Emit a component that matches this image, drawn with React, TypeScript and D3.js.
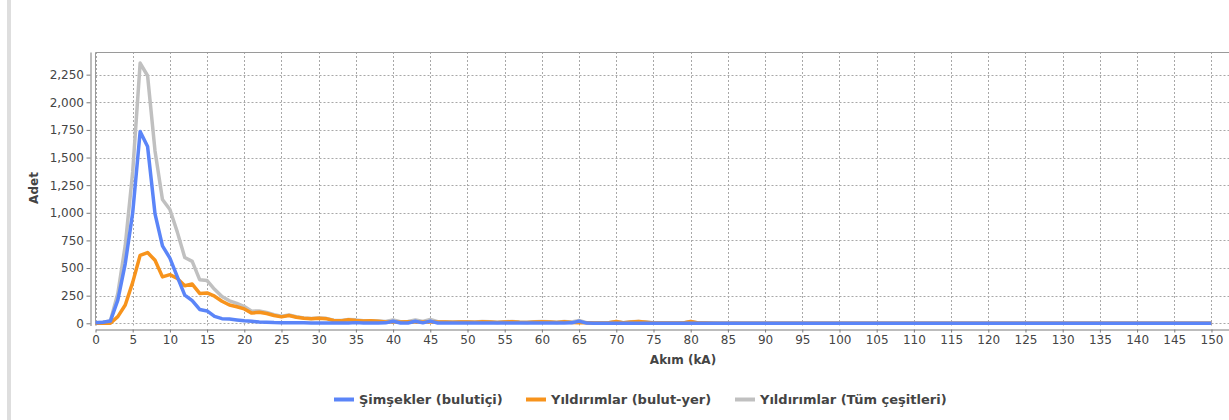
import React, { useEffect, useRef } from 'react'
import * as d3 from 'd3'

// Adet per kA (index = kA, 0..150)
const simsekler = [
  5, 10, 20, 210, 540, 1000, 1735, 1600, 990, 700,
  590, 420, 255, 205, 125, 112, 62, 42, 38, 30,
  22, 18, 12, 10, 7, 6, 5, 4, 4, 3,
  3, 3, 2, 3, 2, 6, 2, 2, 2, 4,
  18, 3, 2, 18, 4, 20, 3, 2, 2, 2,
  2, 2, 3, 2, 2, 2, 2, 2, 2, 2,
  2, 2, 2, 2, 4, 20, 2, 1, 1, 1,
  1, 1, 1, 1, 1, 1, 1, 1, 1, 1,
  1, 1, 1, 1, 0, 0, 1, 0, 0, 0,
  0, 0, 0, 0, 0, 0, 0, 0, 0, 0,
  0, 0, 0, 0, 0, 0, 0, 0, 0, 0,
  0, 0, 0, 0, 0, 0, 0, 0, 0, 0,
  0, 0, 0, 0, 0, 0, 0, 0, 0, 0,
  0, 0, 0, 0, 0, 0, 0, 0, 0, 0,
  0, 0, 0, 0, 0, 0, 0, 0, 0, 0,
  0
]

const bulutYer = [
  0, 0, 0, 60, 165, 370, 615, 640, 570, 420,
  440, 405, 340, 355, 270, 275, 245, 200, 165, 150,
  130, 92, 100, 88, 70, 58, 70, 55, 45, 40,
  45, 42, 25, 22, 32, 25, 20, 22, 18, 12,
  12, 12, 14, 12, 12, 14, 12, 12, 10, 12,
  12, 10, 14, 12, 8, 12, 14, 10, 8, 12,
  14, 12, 8, 14, 8, 5, 4, 3, 3, 5,
  16, 4, 12, 16, 10, 3, 2, 2, 2, 3,
  16, 3, 2, 1, 1, 1, 1, 1, 1, 1,
  0, 0, 1, 0, 0, 0, 0, 0, 0, 0,
  0, 0, 0, 0, 0, 0, 0, 0, 0, 0,
  0, 0, 0, 0, 0, 0, 0, 0, 0, 0,
  0, 0, 0, 0, 0, 0, 0, 0, 0, 0,
  0, 0, 0, 0, 0, 0, 0, 0, 0, 0,
  0, 0, 0, 0, 0, 0, 0, 0, 0, 0,
  0
]

const tumCesitler = [
  5, 10, 20, 270, 705, 1370, 2355, 2240, 1560, 1120,
  1030, 825, 595, 560, 395, 387, 307, 242, 203, 180,
  152, 110, 112, 98, 77, 64, 75, 59, 49, 43,
  48, 45, 27, 25, 34, 31, 22, 24, 20, 16,
  30, 15, 16, 30, 16, 34, 15, 14, 12, 14,
  14, 12, 17, 14, 10, 14, 16, 12, 10, 14,
  16, 14, 10, 16, 12, 25, 6, 4, 4, 6,
  17, 5, 13, 17, 11, 4, 3, 3, 3, 4,
  17, 4, 3, 2, 1, 1, 2, 1, 1, 1,
  0, 0, 1, 0, 0, 0, 0, 0, 0, 0,
  0, 0, 0, 0, 0, 0, 0, 0, 0, 0,
  0, 0, 0, 0, 0, 0, 0, 0, 0, 0,
  0, 0, 0, 0, 0, 0, 0, 0, 0, 0,
  0, 0, 0, 0, 0, 0, 0, 0, 0, 0,
  0, 0, 0, 0, 0, 0, 0, 0, 0, 0,
  0
]

const seriesNames = ['Şimşekler (bulutiçi)', 'Yıldırımlar (bulut-yer)', 'Yıldırımlar (Tüm çeşitleri)']
const seriesColors = ['#5b85f8', '#f7931c', '#c0c0c0']

const xTicks = [0, 5, 10, 15, 20, 25, 30, 35, 40, 45, 50, 55, 60, 65, 70, 75, 80, 85, 90, 95,
  100, 105, 110, 115, 120, 125, 130, 135, 140, 145, 150]
const yTicks = [0, 250, 500, 750, 1000, 1250, 1500, 1750, 2000, 2250]

const xTitle = 'Akım (kA)'
const yTitle = 'Adet'

const W = 1229, H = 420
const FONT = '"DejaVu Sans", Verdana, sans-serif'

export default function App() {
  const ref = useRef<SVGSVGElement>(null)

  useEffect(() => {
    const svg = d3.select(ref.current)
    svg.selectAll('*').remove()

    const left = 95.5, top = 52, right = 1271, bottom = 325.5

    const x = d3.scaleLinear().domain([0, 158]).range([left, right])
    const y = d3.scaleLinear().domain([-20, 2455]).range([bottom, top])
    const px = (v: number) => Math.round(v) + 0.5

    // left grey strip
    svg.append('rect').attr('x', 7).attr('y', 0).attr('width', 4).attr('height', H).attr('fill', '#dedede')

    // grid
    const grid = svg.append('g')
    grid.selectAll('.vg').data(xTicks).enter().append('line')
      .attr('x1', d => px(x(d))).attr('x2', d => px(x(d)))
      .attr('y1', top).attr('y2', bottom)
      .attr('stroke', '#a8a8a8').attr('stroke-width', 1).attr('stroke-dasharray', '2,2')
    grid.selectAll('.hg').data(yTicks).enter().append('line')
      .attr('x1', left).attr('x2', right)
      .attr('y1', d => px(y(d))).attr('y2', d => px(y(d)))
      .attr('stroke', '#a8a8a8').attr('stroke-width', 1).attr('stroke-dasharray', '2,2')

    // plot outline
    svg.append('path')
      .attr('d', `M${left},${bottom}V${top + 0.5}H${right}`)
      .attr('fill', 'none').attr('stroke', '#9a9a9a').attr('stroke-width', 1)

    // series (grey first, blue on top)
    const line = d3.line<number>().x((d, i) => x(i)).y(d => y(d))
    const allSeries = [simsekler, bulutYer, tumCesitler]
    ;[2, 1, 0].forEach(k => {
      svg.append('path')
        .datum(allSeries[k])
        .attr('d', line)
        .attr('fill', 'none')
        .attr('stroke', seriesColors[k])
        .attr('stroke-width', 3.5)
        .attr('stroke-linejoin', 'round')
    })

    // axes
    const yAxis = svg.append('g').attr('transform', 'translate(90.5,0)')
      .call(d3.axisLeft(y).tickValues(yTicks).tickSize(4).tickSizeOuter(0).tickPadding(2.5).tickFormat(d3.format(',')))
    const xAxis = svg.append('g').attr('transform', 'translate(0,329.5)')
      .call(d3.axisBottom(x).tickValues(xTicks).tickSize(3).tickSizeOuter(0).tickPadding(3))
    ;[yAxis, xAxis].forEach(g => {
      g.attr('font-family', FONT).attr('font-size', 12)
      g.select('.domain').attr('stroke', '#7a7a7a')
      g.selectAll('.tick line').attr('stroke', '#7a7a7a')
      g.selectAll('.tick text').attr('fill', '#444')
    })

    // titles
    svg.append('text')
      .attr('x', 683).attr('y', 364)
      .attr('text-anchor', 'middle')
      .attr('font-family', FONT).attr('font-size', 12).attr('font-weight', 'bold')
      .attr('fill', '#444').text(xTitle)
    svg.append('text')
      .attr('transform', 'translate(38,188) rotate(-90)')
      .attr('text-anchor', 'middle')
      .attr('font-family', FONT).attr('font-size', 12).attr('font-weight', 'bold')
      .attr('fill', '#444').text(yTitle)

    // legend
    const legendX = [334, 526, 735]
    const leg = svg.append('g')
    seriesNames.forEach((name, i) => {
      leg.append('line')
        .attr('x1', legendX[i]).attr('x2', legendX[i] + 20)
        .attr('y1', 399.5).attr('y2', 399.5)
        .attr('stroke', seriesColors[i]).attr('stroke-width', 4)
      leg.append('text')
        .attr('x', legendX[i] + 25).attr('y', 404)
        .attr('font-family', FONT).attr('font-size', 13).attr('font-weight', 'bold')
        .attr('fill', '#444').text(name)
    })
  }, [])

  return (
    <svg ref={ref} width={W} height={H}
      style={{ position: 'absolute', left: 0, top: 0, background: '#fff', overflow: 'hidden' }} />
  )
}
